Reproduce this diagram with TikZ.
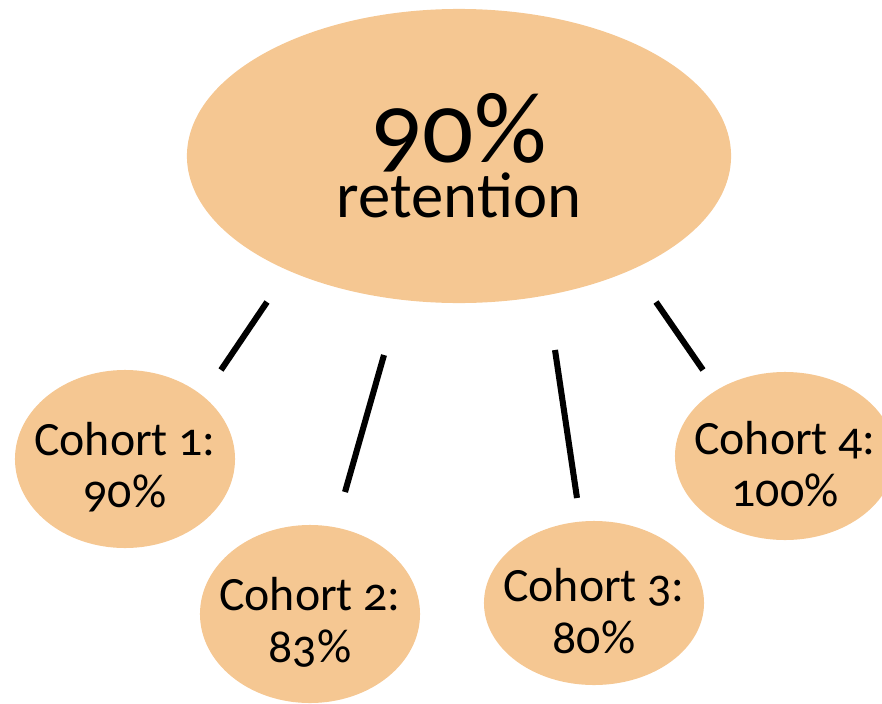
\documentclass[tikz,border=0pt]{standalone}
\usepackage{fontspec}
\setmainfont{Carlito}[Numbers=OldStyle]
\usetikzlibrary{shapes.geometric}
\definecolor{peach}{RGB}{245,199,146}
\newcommand{\nowidth}[1]{\makebox[0pt]{#1}}
\begin{document}
\begin{tikzpicture}[x=0.025cm,y=-0.025cm,
		bubble/.style={ellipse,fill=peach,inner sep=0pt,align=center,
			font=\fontsize{34}{37}\selectfont,
			execute at begin node={\lineskiplimit=-100pt\relax}},
		link/.style={line width=4.3pt,black}]
		\useasboundingbox (0,0) rectangle (882,704);
		\clip (0,0) rectangle (882,704);
		% overall retention
		\node[bubble,minimum width=13.6cm,minimum height=7.35cm] (root) at (459,156)
			{\fontsize{72}{40}\selectfont\nowidth{90\%}\\[2pt]\fontsize{46}{40}\selectfont\nowidth{retention}};
		% the four cohorts
		\node[bubble,minimum width=5.5cm,minimum height=4.45cm] (c1) at (125,459) {\rule{0pt}{35pt}\nowidth{Cohort 1:}\\\nowidth{90\%}};
		\node[bubble,minimum width=5.5cm,minimum height=4.45cm] (c2) at (310,614) {\rule{0pt}{35pt}\nowidth{Cohort 2:}\\\nowidth{83\%}};
		\node[bubble,minimum width=5.5cm,minimum height=4.1cm] (c3) at (594,603) {\rule{0pt}{35pt}\nowidth{Cohort 3:}\\\nowidth{80\%}};
		\node[bubble,minimum width=5.5cm,minimum height=4.2cm] (c4) at (785,456) {\rule{0pt}{35pt}\nowidth{Cohort 4:}\\\nowidth{100\%}};
		% loose ends of the links
		\coordinate (r1) at (267,302); \coordinate (e1) at (221,370);
		\coordinate (r2) at (384,355); \coordinate (e2) at (345,492);
		\coordinate (r3) at (555,350); \coordinate (e3) at (577,498);
		\coordinate (r4) at (656,302); \coordinate (e4) at (703,370);
		\draw[link] (r1) -- (e1);
		\draw[link] (r2) -- (e2);
		\draw[link] (r3) -- (e3);
		\draw[link] (r4) -- (e4);
\end{tikzpicture}
\end{document}
